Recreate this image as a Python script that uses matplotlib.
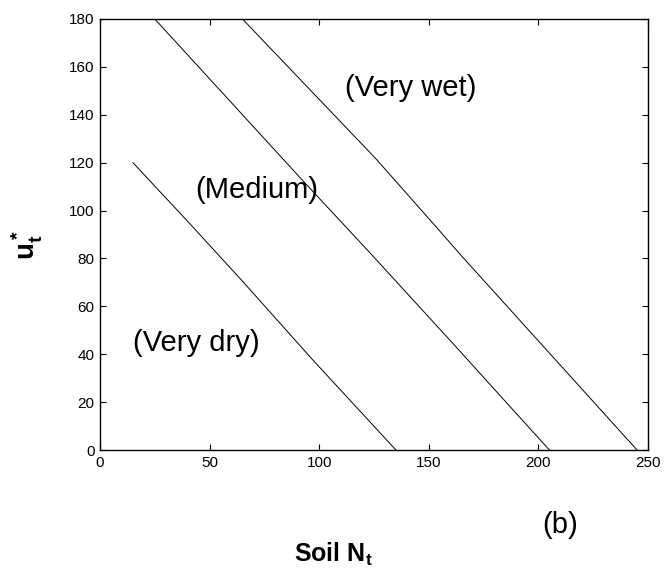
import matplotlib
matplotlib.use("Agg")
import matplotlib.pyplot as plt

plt.rcParams['font.family'] = ['Liberation Sans', 'DejaVu Sans']
plt.rcParams['mathtext.fontset'] = 'custom'
plt.rcParams['mathtext.rm'] = 'Liberation Sans'
plt.rcParams['mathtext.bf'] = 'Liberation Sans:bold'
plt.rcParams['mathtext.it'] = 'Liberation Sans:italic'

# Threshold curves for three soil moisture states
dry_x = [15, 40, 65, 97, 135]
dry_y = [120, 95.5, 70.5, 37.7, 0]

medium_x = [25, 60, 91, 123, 160, 205]
medium_y = [180, 145, 114, 82.5, 45.5, 0]

wet_x = [65, 126, 154, 165, 245]
wet_y = [180, 121.5, 92.5, 81, 0]

x_ticks = [0, 50, 100, 150, 200, 250]
y_ticks = [0, 20, 40, 60, 80, 100, 120, 140, 160, 180]

fig = plt.figure(figsize=(6.65, 5.74), dpi=100)
ax = fig.add_axes([100 / 665, 1 - 450 / 574, 548 / 665, 431 / 574])

for xs, ys in [(dry_x, dry_y), (medium_x, medium_y), (wet_x, wet_y)]:
    ax.plot(xs, ys, color='black', linewidth=0.7)

ax.set_xlim(0, 250)
ax.set_ylim(0, 180)
ax.set_xticks(x_ticks)
ax.set_yticks(y_ticks)
ax.tick_params(direction='in', length=4, width=0.8, top=True, right=True,
               labelsize=11, pad=4)
for sp in ax.spines.values():
    sp.set_linewidth(1.0)

ax.text(111.8, 151, '(Very wet)', fontsize=21, ha='left', va='center')
ax.text(43.3, 108.6, '(Medium)', fontsize=21, ha='left', va='center')
ax.text(15.2, 44.6, '(Very dry)', fontsize=21, ha='left', va='center')

fig.text(560 / 665, 1 - 525 / 574, '(b)', fontsize=21, ha='center', va='center')
fig.text(333 / 665, 1 - 562 / 574, r'$\mathbf{Soil\ N_t}$', fontsize=18,
         ha='center', va='baseline')
fig.text(27 / 665, 1 - 245 / 574, r'$\mathbf{u_t^*}$', fontsize=20,
         rotation=90, ha='center', va='center')

fig.savefig('out.png', dpi=100)
